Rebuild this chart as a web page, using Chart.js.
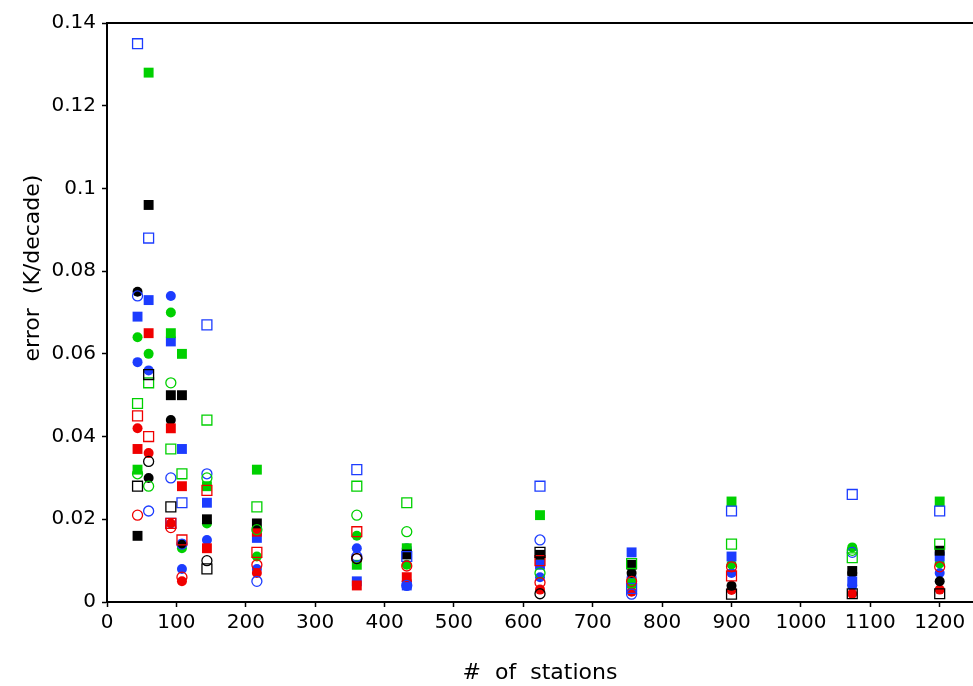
<!DOCTYPE html>
<html>
<head>
<meta charset="utf-8">
<script src="https://cdn.jsdelivr.net/npm/chart.js@4.4.0/dist/chart.umd.min.js"></script>
<style>
  html, body { margin: 0; padding: 0; background: #fff; overflow: hidden; }
  #wrap { width: 973px; height: 686px; }
</style>
</head>
<body>
<div id="wrap"><canvas id="errChart"></canvas></div>
<script>
// number of stations (x positions of the columns)
const stations = [44, 60, 92, 108, 144, 216, 360, 432, 624, 756, 900, 1074, 1200];

// errors (K/decade), one value per station count; null = not visible
// black
const blackSq     = [0.016, 0.096, 0.050, 0.050, 0.020, 0.019, null, 0.0115, 0.0114, 0.009, null, 0.0075, 0.0124];
const blackSqOpen = [0.028, 0.055, 0.023, null, 0.008, null, null, null, 0.012, null, 0.0019, 0.002, 0.002];
const blackDot    = [0.075, 0.030, 0.044, 0.014, null, null, null, null, null, 0.007, 0.0039, 0.007, 0.005];
const blackDotOpen= [null, 0.034, null, null, 0.010, null, 0.0105, null, 0.002, null, null, null, null];
// red
const redSq       = [0.037, 0.065, 0.042, 0.028, 0.013, 0.017, 0.004, 0.006, null, null, null, null, null];
const redSqOpen   = [0.045, 0.040, 0.019, 0.015, 0.027, 0.012, 0.017, null, 0.010, null, 0.0063, null, null];
const redDot      = [0.042, 0.036, 0.019, 0.005, null, 0.007, null, 0.005, 0.003, 0.0025, 0.0029, 0.002, 0.003];
const redDotOpen  = [0.021, null, 0.018, 0.006, null, 0.009, 0.0105, 0.0087, 0.0047, 0.005, 0.0085, null, 0.0085];
// green
const greenSq     = [0.032, 0.128, 0.065, 0.060, 0.028, 0.032, 0.009, 0.013, 0.021, 0.0045, 0.0243, null, 0.0243];
const greenSqOpen = [0.048, 0.053, 0.037, 0.031, 0.044, 0.023, 0.028, 0.024, null, 0.0093, 0.014, 0.0107, 0.014];
const greenDot    = [0.064, 0.060, 0.070, 0.013, 0.019, 0.011, 0.016, 0.009, null, null, 0.0091, 0.0132, 0.0093];
const greenDotOpen= [0.031, 0.028, 0.053, null, 0.030, 0.0175, 0.021, 0.017, 0.007, null, null, 0.0125, null];
// blue
const blueSq      = [0.069, 0.073, 0.063, 0.037, 0.024, 0.0155, 0.005, 0.004, 0.009, 0.012, 0.011, 0.005, 0.011];
const blueSqOpen  = [0.135, 0.088, 0.019, 0.024, 0.067, null, 0.032, 0.011, 0.028, 0.0033, 0.022, 0.026, 0.022];
const blueDot     = [0.058, 0.056, 0.074, 0.008, 0.015, 0.008, 0.013, 0.013, 0.006, 0.006, 0.007, 0.0039, 0.007];
const blueDotOpen = [0.074, 0.022, 0.030, 0.014, 0.031, 0.005, 0.011, 0.004, 0.015, 0.0019, null, 0.012, null];

const xTicks = [0, 100, 200, 300, 400, 500, 600, 700, 800, 900, 1000, 1100, 1200];
const yTicks = [0, 0.02, 0.04, 0.06, 0.08, 0.1, 0.12, 0.14];

const BLACK = '#000000', RED = '#f00000', GREEN = '#00d000', BLUE = '#1c3cff';

function pts(vals) {
    return stations.map((s, i) => ({x: s, y: vals[i]})).filter(p => p.y !== null);
}

function series(vals, color, shape, filled) {
    return {
        data: pts(vals),
        pointStyle: shape,
        pointRadius: shape === 'rect' ? 7 : 5,
        pointHoverRadius: shape === 'rect' ? 7 : 5,
        backgroundColor: filled ? color : 'rgba(0,0,0,0)',
        borderColor: color,
        pointBorderWidth: filled ? 0 : 1.3,
        borderWidth: filled ? 0 : 1.3
    };
}

const datasets = [
    series(blackSqOpen, BLACK, 'rect', false),
    series(blackDotOpen, BLACK, 'circle', false),
    series(redSqOpen, RED, 'rect', false),
    series(redDotOpen, RED, 'circle', false),
    series(greenSqOpen, GREEN, 'rect', false),
    series(greenDotOpen, GREEN, 'circle', false),
    series(blueSqOpen, BLUE, 'rect', false),
    series(blueDotOpen, BLUE, 'circle', false),
    series(blackSq, BLACK, 'rect', true),
    series(redSq, RED, 'rect', true),
    series(greenSq, GREEN, 'rect', true),
    series(blueSq, BLUE, 'rect', true),
    series(blackDot, BLACK, 'circle', true),
    series(redDot, RED, 'circle', true),
    series(greenDot, GREEN, 'circle', true),
    series(blueDot, BLUE, 'circle', true)
];

const FONT = "'DejaVu Sans', sans-serif";

// frame line on top + rotated y title
const extras = {
    id: 'extras',
    afterDraw(chart) {
        const {ctx, chartArea} = chart;
        ctx.save();
        ctx.strokeStyle = '#000';
        ctx.lineWidth = 2;
        ctx.beginPath();
        ctx.moveTo(chartArea.left, chartArea.top);
        ctx.lineTo(chartArea.right, chartArea.top);
        ctx.stroke();

        ctx.translate(33, 268);
        ctx.rotate(-Math.PI / 2);
        ctx.fillStyle = '#000';
        ctx.font = "22px " + FONT;
        ctx.textAlign = 'center';
        ctx.textBaseline = 'middle';
        ctx.fillText('error  (K/decade)', 0, 0);
        ctx.restore();
    }
};

new Chart(document.getElementById('errChart'), {
    type: 'scatter',
    data: { datasets: datasets },
    plugins: [extras],
    options: {
        responsive: true,
        maintainAspectRatio: false,
        animation: false,
        layout: { autoPadding: false, padding: { top: 23, right: 0, left: 0, bottom: 0 } },
        plugins: {
            legend: { display: false },
            tooltip: { enabled: false }
        },
        scales: {
            x: {
                type: 'linear',
                min: 0,
                max: 1248,
                afterBuildTicks: s => { s.ticks = xTicks.map(v => ({value: v})); },
                afterFit: s => { s.height = 84; },
                ticks: {
                    color: '#000',
                    padding: 4,
                    maxRotation: 0,
                    autoSkip: false,
                    font: { family: FONT, size: 20 },
                    callback: v => String(v)
                },
                grid: { display: true, drawOnChartArea: false, color: '#000', tickLength: 5, tickWidth: 1.5 },
                border: { display: true, color: '#000', width: 2 },
                title: {
                    display: true,
                    text: '#  of  stations',
                    color: '#000',
                    font: { family: FONT, size: 22 },
                    padding: { top: 0, bottom: 0 }
                }
            },
            y: {
                min: 0,
                max: 0.14,
                afterBuildTicks: s => { s.ticks = yTicks.map(v => ({value: v})); },
                afterFit: s => { s.width = 107; },
                ticks: {
                    color: '#000',
                    padding: 6,
                    font: { family: FONT, size: 20 },
                    callback: v => String(+v.toFixed(2))
                },
                grid: { display: true, drawOnChartArea: false, color: '#000', tickLength: 5, tickWidth: 1.5 },
                border: { display: true, color: '#000', width: 2 }
            }
        }
    }
});
</script>
</body>
</html>
